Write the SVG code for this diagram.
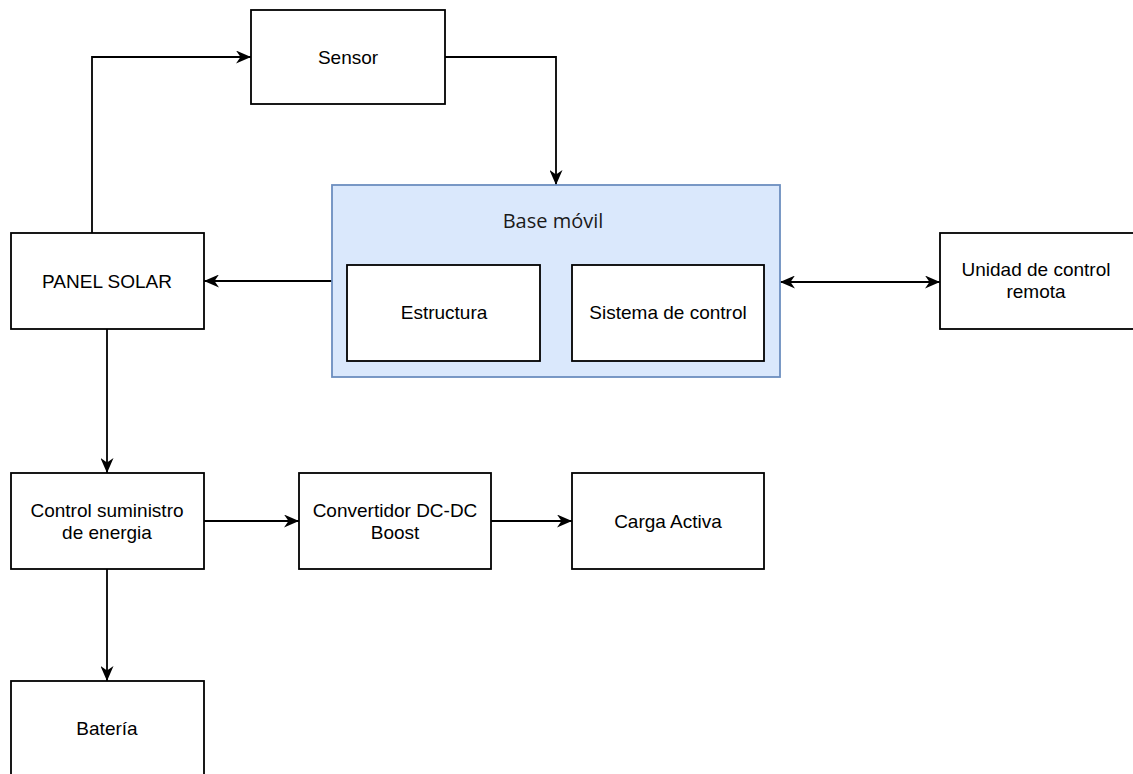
<svg xmlns="http://www.w3.org/2000/svg" width="1133" height="774" viewBox="0 0 1133 774">
<style>
.box{fill:#ffffff;stroke:#000000;stroke-width:1.8}
.grp{fill:#dae8fc;stroke:#6c8ebf;stroke-width:1.8}
.t{font-family:"Liberation Sans",Arial,sans-serif;font-size:19px;fill:#000000;text-anchor:middle}
.tg{font-family:"Open Sans","Noto Sans",sans-serif;font-size:20px;fill:#1a1a1a;text-anchor:middle}
.c{fill:none;stroke:#000000;stroke-width:1.8}
</style>
<defs>
<marker id="arr" markerUnits="userSpaceOnUse" markerWidth="15" markerHeight="13" viewBox="0 0 15 13" refX="15" refY="6.5" orient="auto-start-reverse">
<path d="M0,0 L15,6.5 L0,13 L4.5,6.5 Z" fill="#000000"/>
</marker>
</defs>
<rect width="1133" height="774" fill="#ffffff"/>
<g id="connectors">
<path class="c" d="M92,233 L92,57 L251,57" marker-end="url(#arr)"/>
<path class="c" d="M445,57 L556,57 L556,185" marker-end="url(#arr)"/>
<path class="c" d="M332,281 L204,281" marker-end="url(#arr)"/>
<path class="c" d="M780,282 L940,282" marker-start="url(#arr)" marker-end="url(#arr)"/>
<path class="c" d="M107,329 L107,473" marker-end="url(#arr)"/>
<path class="c" d="M107,569 L107,681" marker-end="url(#arr)"/>
<path class="c" d="M204,521 L299,521" marker-end="url(#arr)"/>
<path class="c" d="M491,521 L572,521" marker-end="url(#arr)"/>
</g>
<g id="sensor">
<rect class="box" x="251" y="10" width="194" height="94"/>
<text class="t" x="348" y="64">Sensor</text>
</g>
<g id="base-movil">
<rect class="grp" x="332" y="185" width="448" height="192"/>
<text class="tg" x="553" y="228">Base móvil</text>
</g>
<g id="estructura">
<rect class="box" x="347" y="265" width="193" height="96"/>
<text class="t" x="444" y="319">Estructura</text>
</g>
<g id="sistema-control">
<rect class="box" x="572" y="265" width="192" height="96"/>
<text class="t" x="668" y="319">Sistema de control</text>
</g>
<g id="panel-solar">
<rect class="box" x="11" y="233" width="193" height="96"/>
<text class="t" x="107" y="288">PANEL SOLAR</text>
</g>
<g id="unidad-control">
<rect class="box" x="940" y="233" width="194" height="96"/>
<text class="t" x="1036" y="276">Unidad de control</text>
<text class="t" x="1036" y="298">remota</text>
</g>
<g id="control-suministro">
<rect class="box" x="11" y="473" width="193" height="96"/>
<text class="t" x="107" y="517">Control suministro</text>
<text class="t" x="107" y="539">de energia</text>
</g>
<g id="convertidor">
<rect class="box" x="299" y="473" width="192" height="96"/>
<text class="t" x="395" y="517">Convertidor DC-DC</text>
<text class="t" x="395" y="539">Boost</text>
</g>
<g id="carga-activa">
<rect class="box" x="572" y="473" width="192" height="96"/>
<text class="t" x="668" y="528">Carga Activa</text>
</g>
<g id="bateria">
<rect class="box" x="11" y="681" width="193" height="96"/>
<text class="t" x="107" y="735">Batería</text>
</g>
</svg>
